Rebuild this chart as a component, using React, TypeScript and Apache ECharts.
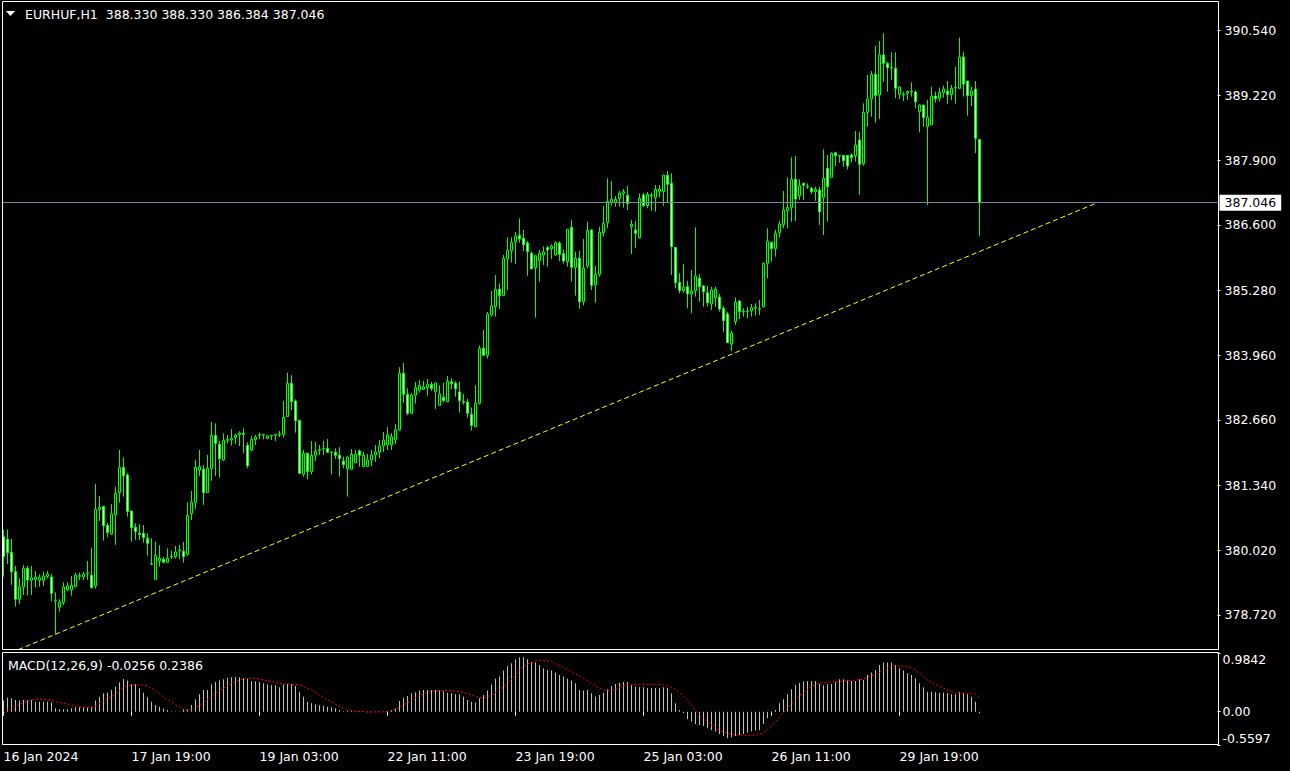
import React, { useEffect, useRef } from "react";
import * as echarts from "echarts";

const symbol = "EURHUF";
const timeframe = "H1";

const opens = [380.302,380.248,379.986,379.595,379.036,379.285,379.663,379.420,379.440,379.420,
379.420,379.494,379.487,379.003,378.875,378.976,379.225,379.225,379.292,379.501,
379.487,379.555,379.521,379.306,380.848,380.915,380.531,380.356,380.747,381.191,
381.703,381.548,380.821,380.491,380.370,380.370,380.269,379.750,379.440,379.811,
379.844,379.784,379.892,379.898,380.020,380.006,379.946,380.767,380.996,381.649,
381.663,381.191,381.676,382.350,382.168,381.851,382.249,382.256,382.303,382.363,
382.390,382.148,382.053,382.262,382.350,382.357,382.289,382.350,382.350,382.363,
382.370,382.727,383.400,383.044,382.653,381.562,381.986,381.616,381.946,382.047,
382.074,382.087,382.013,382.006,381.946,381.831,381.676,381.663,381.798,382.033,
381.717,381.717,381.851,381.952,382.013,382.134,382.155,382.155,382.256,382.458,
383.603,383.179,382.795,383.158,383.266,383.280,383.313,383.381,383.232,382.956,
383.118,383.030,383.434,383.401,383.226,383.030,383.024,382.774,382.525,382.997,
384.108,383.966,384.781,384.950,385.300,385.172,385.913,386.081,386.263,386.391,
386.330,386.236,386.027,385.738,385.879,385.994,386.142,386.121,385.994,386.236,
386.020,385.859,386.553,385.744,385.926,385.051,385.771,386.499,385.387,385.603,
386.445,386.647,387.058,387.051,387.132,387.239,387.199,386.566,386.499,386.344,
387.206,386.990,387.192,387.152,387.273,387.273,387.603,387.442,386.148,385.441,
385.273,385.354,385.206,385.273,385.522,385.367,385.232,385.003,385.131,385.145,
384.916,384.801,384.195,384.646,385.064,384.842,384.862,384.869,384.922,384.902,
384.949,385.825,386.249,386.121,386.445,386.606,386.889,386.957,387.522,387.192,
387.441,387.367,387.340,387.273,387.307,387.159,387.745,387.563,388.061,388.000,
388.007,388.007,388.014,388.001,388.317,387.839,388.876,389.146,389.644,389.227,
390.035,389.866,389.772,389.765,389.240,389.227,389.260,389.287,389.287,388.890,
389.025,388.587,388.620,389.206,389.160,389.274,389.307,389.233,389.368,389.361,
389.994,389.510,389.213,389.348,388.330];

const highs = [380.437,380.450,380.255,379.710,379.460,379.730,379.710,379.710,379.609,379.541,
379.595,379.609,379.541,379.178,379.036,379.380,379.380,379.507,379.575,379.575,
379.595,379.811,380.080,381.367,381.124,380.922,380.578,380.962,381.313,382.053,
381.905,381.582,380.821,380.572,380.552,380.538,380.370,380.269,380.201,380.127,
379.898,380.067,380.020,380.114,380.134,380.195,380.996,381.225,381.851,382.054,
381.750,381.953,382.619,382.592,382.242,382.390,382.357,382.478,382.377,382.431,
382.491,382.208,382.336,382.357,382.404,382.377,382.357,382.350,382.377,382.437,
383.044,383.616,383.569,383.077,382.660,382.053,382.000,382.235,382.215,382.155,
382.235,382.276,382.020,382.087,382.114,381.919,381.932,382.074,382.053,382.067,
382.020,381.973,382.053,382.155,382.256,382.417,382.518,382.397,382.579,383.724,
383.812,383.300,383.199,383.428,383.468,383.448,383.488,383.428,383.421,383.360,
383.414,383.549,383.502,383.441,383.434,383.185,383.091,382.909,383.360,384.169,
384.478,384.842,385.266,385.589,385.421,385.994,386.350,386.350,386.458,386.734,
386.499,386.276,386.061,385.980,386.095,386.169,386.175,386.209,386.270,386.270,
386.108,386.512,386.701,386.061,386.081,386.317,386.667,386.512,385.771,386.566,
386.990,387.543,387.489,387.186,387.293,387.327,387.388,386.701,386.680,387.239,
387.253,387.266,387.253,387.408,387.408,387.610,387.691,387.644,386.148,385.623,
385.812,385.475,385.690,386.553,385.610,385.387,385.367,385.354,385.354,385.206,
384.963,384.849,384.460,385.138,385.084,384.916,384.949,385.003,385.017,385.084,
385.839,386.532,386.263,386.499,386.680,387.287,387.563,387.967,387.994,387.522,
387.455,387.441,387.374,387.374,387.374,388.128,388.014,388.068,388.081,388.014,
388.014,388.014,388.048,388.499,388.486,389.058,389.631,389.712,390.217,390.318,
390.473,389.900,390.089,390.089,389.408,389.294,389.321,389.483,389.321,389.038,
389.025,389.126,389.395,389.294,389.375,389.415,389.510,389.429,389.799,390.385,
390.102,389.510,389.395,389.510,388.330];

const lows = [379.494,379.750,379.326,378.888,378.942,379.124,379.110,379.124,379.272,379.292,
379.312,379.460,378.996,378.336,378.787,378.922,379.205,379.110,379.279,379.427,
379.427,379.427,379.252,379.252,380.619,380.222,380.289,380.336,380.134,380.989,
381.111,380.707,380.201,380.235,380.235,380.181,379.919,379.730,379.427,379.696,
379.764,379.777,379.851,379.858,379.851,379.777,379.912,380.639,380.861,381.528,
380.942,381.191,381.427,381.528,381.495,381.831,382.188,382.141,382.175,382.134,
381.986,381.683,382.033,382.155,382.276,382.269,382.269,382.256,382.235,382.309,
382.303,382.727,382.862,382.404,381.569,381.515,381.461,381.562,381.831,381.952,
381.952,382.000,381.562,381.872,381.515,381.683,381.111,381.663,381.784,381.717,
381.717,381.717,381.730,381.811,381.892,382.013,382.053,382.053,382.175,382.444,
383.010,382.761,382.781,382.990,383.212,383.266,383.152,383.246,382.882,382.950,
383.017,383.017,383.280,383.131,382.808,382.970,382.707,382.444,382.512,382.970,
383.966,383.899,384.748,384.748,384.902,385.172,385.286,385.839,385.812,386.243,
386.074,385.576,385.711,384.727,385.455,385.791,385.758,385.913,385.973,385.872,
385.818,385.758,385.455,385.172,384.909,384.977,385.724,385.286,385.030,385.556,
386.364,386.532,386.990,386.970,386.970,386.950,386.903,386.014,386.135,386.330,
386.970,386.936,386.889,386.869,387.159,386.990,387.058,385.589,385.320,385.219,
385.233,384.916,384.815,385.152,385.051,384.950,384.950,384.882,384.950,384.849,
384.444,384.222,384.054,384.579,384.700,384.747,384.714,384.747,384.768,384.781,
384.929,385.522,385.859,385.960,386.350,386.532,386.532,386.667,386.680,387.105,
387.105,387.327,387.226,387.091,386.600,386.398,386.667,387.563,387.792,387.859,
387.778,387.724,387.866,387.880,387.206,387.799,388.587,388.789,388.668,388.742,
389.496,389.294,389.530,389.159,389.146,389.105,389.126,389.193,388.957,388.472,
388.587,387.004,388.620,389.072,389.092,389.173,389.052,389.126,389.052,389.361,
389.193,388.809,389.004,388.055,386.384];

const closes = [379.898,379.979,379.595,379.036,379.285,379.663,379.427,379.467,379.487,379.474,
379.508,379.548,379.157,379.016,378.983,379.285,379.306,379.319,379.521,379.514,
379.548,379.568,379.272,380.855,380.895,380.525,380.383,380.760,381.178,381.703,
381.535,380.808,380.484,380.403,380.343,380.282,380.168,379.743,379.925,379.865,
379.784,379.865,379.905,379.993,380.033,379.898,380.734,380.996,381.703,381.717,
381.191,381.683,382.350,382.188,381.878,382.249,382.262,382.289,382.357,382.397,
382.370,381.737,382.269,382.316,382.363,382.363,382.336,382.343,382.363,382.377,
382.707,383.400,383.030,382.646,381.582,381.986,381.616,381.946,382.027,382.060,
382.080,382.006,382.006,381.946,381.878,381.757,381.912,381.966,381.966,381.946,
381.946,381.851,381.952,382.013,382.134,382.256,382.357,382.322,382.458,383.603,
383.179,382.795,383.165,383.320,383.360,383.327,383.381,383.293,383.408,383.185,
383.051,383.441,383.394,383.293,383.051,383.017,382.795,382.552,382.997,384.108,
383.966,384.802,384.963,385.300,385.172,385.926,386.088,386.249,386.377,386.317,
386.202,386.061,385.711,385.980,386.027,386.054,386.095,386.175,386.243,386.007,
385.872,386.512,385.744,385.926,385.051,385.724,386.492,385.381,385.603,386.452,
386.633,387.078,387.118,387.118,387.246,387.273,387.031,386.613,386.431,387.138,
386.990,387.219,387.206,387.320,387.327,387.610,387.421,386.162,385.435,385.273,
385.340,385.206,385.266,385.569,385.354,385.253,385.030,385.286,385.300,384.902,
384.667,384.222,384.411,385.037,384.848,384.855,384.855,384.929,384.936,384.909,
385.825,386.276,386.121,386.431,386.620,386.903,386.957,387.522,387.125,387.394,
387.401,387.381,387.273,387.320,386.869,387.542,387.374,388.048,388.000,387.994,
387.899,387.792,387.960,388.216,387.826,388.876,389.146,389.644,389.213,390.035,
389.866,389.779,389.786,389.361,389.388,389.240,389.294,389.301,389.092,389.025,
388.769,388.775,389.206,389.153,389.281,389.348,389.233,389.361,389.381,389.994,
389.449,389.213,389.307,388.351,387.046];

const macdMain = [0.185,0.235,0.224,0.196,0.185,0.196,0.185,0.196,0.168,0.168,
0.168,0.168,0.152,0.056,0.040,0.040,0.040,0.056,0.073,0.073,
0.073,0.073,0.084,0.185,0.252,0.308,0.319,0.364,0.420,0.493,
0.549,0.521,0.459,0.459,0.392,0.319,0.241,0.168,0.112,0.084,
0.051,0.029,0.006,-0.005,-0.005,0.040,0.040,0.112,0.207,0.291,
0.364,0.364,0.459,0.498,0.521,0.543,0.565,0.577,0.582,0.577,
0.560,0.554,0.510,0.510,0.498,0.476,0.459,0.442,0.442,0.409,
0.454,0.465,0.459,0.431,0.336,0.252,0.168,0.140,0.124,0.109,
0.101,0.084,0.073,0.056,0.029,0.006,0.017,0.012,0.001,-0.005,
-0.005,-0.011,-0.011,-0.005,-0.005,0.001,0.012,0.029,0.051,0.180,
0.235,0.263,0.308,0.325,0.353,0.364,0.364,0.364,0.364,0.353,
0.342,0.319,0.308,0.291,0.291,0.252,0.196,0.168,0.152,0.224,
0.280,0.353,0.454,0.550,0.588,0.689,0.767,0.812,0.879,0.912,
0.912,0.879,0.834,0.823,0.783,0.728,0.700,0.689,0.656,0.616,
0.588,0.554,0.521,0.476,0.364,0.353,0.364,0.308,0.252,0.280,
0.319,0.375,0.431,0.465,0.487,0.498,0.498,0.442,0.420,0.409,
0.409,0.398,0.398,0.398,0.398,0.409,0.398,0.308,0.140,0.029,
-0.027,-0.128,-0.167,-0.206,-0.223,-0.240,-0.280,-0.307,-0.335,-0.374,
-0.408,-0.447,-0.430,-0.408,-0.391,-0.374,-0.352,-0.335,-0.318,-0.307,
-0.206,-0.111,-0.027,0.029,0.140,0.207,0.291,0.375,0.448,0.487,
0.504,0.515,0.515,0.515,0.465,0.442,0.459,0.465,0.498,0.543,
0.543,0.521,0.515,0.515,0.543,0.532,0.616,0.656,0.700,0.783,
0.823,0.823,0.823,0.783,0.728,0.689,0.644,0.616,0.560,0.476,
0.409,0.336,0.336,0.325,0.319,0.319,0.308,0.291,0.291,0.336,
0.319,0.291,0.252,0.168,-0.0256];

const macdSignal = [-0.027,0.029,0.056,0.084,0.124,0.152,0.185,0.196,0.207,0.207,
0.207,0.196,0.185,0.168,0.157,0.140,0.129,0.112,0.096,0.084,
0.073,0.073,0.073,0.096,0.140,0.168,0.213,0.252,0.291,0.353,
0.392,0.431,0.448,0.448,0.448,0.448,0.431,0.392,0.353,0.297,
0.252,0.207,0.168,0.112,0.073,0.040,0.029,0.029,0.056,0.096,
0.152,0.207,0.252,0.308,0.353,0.392,0.431,0.476,0.504,0.532,
0.549,0.560,0.560,0.560,0.549,0.532,0.521,0.504,0.493,0.476,
0.465,0.465,0.459,0.459,0.448,0.420,0.392,0.364,0.319,0.280,
0.241,0.196,0.168,0.124,0.084,0.056,0.029,0.017,0.006,0.001,
0.001,-0.005,-0.005,-0.005,-0.005,-0.005,0.001,0.017,0.040,0.073,
0.112,0.157,0.196,0.235,0.269,0.297,0.319,0.336,0.347,0.353,
0.353,0.353,0.353,0.347,0.336,0.319,0.297,0.280,0.252,0.235,
0.235,0.252,0.280,0.319,0.364,0.420,0.476,0.543,0.616,0.700,
0.756,0.800,0.823,0.851,0.856,0.856,0.851,0.840,0.800,0.767,
0.744,0.711,0.672,0.633,0.599,0.560,0.521,0.476,0.431,0.392,
0.364,0.353,0.353,0.375,0.409,0.431,0.454,0.454,0.459,0.459,
0.459,0.459,0.459,0.454,0.454,0.448,0.431,0.409,0.375,0.319,
0.252,0.185,0.112,0.029,-0.044,-0.111,-0.167,-0.223,-0.268,-0.307,
-0.335,-0.363,-0.380,-0.391,-0.397,-0.397,-0.397,-0.397,-0.397,-0.380,
-0.352,-0.296,-0.240,-0.167,-0.095,-0.016,0.056,0.129,0.207,0.263,
0.319,0.375,0.420,0.454,0.476,0.487,0.493,0.498,0.504,0.504,
0.515,0.521,0.521,0.532,0.532,0.549,0.577,0.605,0.633,0.656,
0.689,0.728,0.756,0.767,0.767,0.767,0.756,0.728,0.689,0.644,
0.588,0.532,0.487,0.448,0.420,0.392,0.364,0.336,0.319,0.308,
0.308,0.308,0.302,0.291,0.2386];

const priceTicks = [390.54, 389.22, 387.9, 386.6, 385.28, 383.96, 382.66, 381.34, 380.02, 378.72];
const macdTicks = [0.9842, 0, -0.5597];
const tickLabels = ["16 Jan 2024", "17 Jan 19:00", "19 Jan 03:00", "22 Jan 11:00", "23 Jan 19:00", "25 Jan 03:00", "26 Jan 11:00", "29 Jan 19:00"];
const TICK_STEP = 32;
const VISIBLE_BARS = 304;
const priceMin = 378.032;
const priceMax = 391.106;
const macdMin = -0.5597;
const macdMax = 0.9842;
const trendLine = [[0, 377.895], [273, 387.035]];

const MONTHS = ["Jan","Feb","Mar","Apr","May","Jun","Jul","Aug","Sep","Oct","Nov","Dec"];
const pad = (n: number) => (n < 10 ? "0" + n : "" + n);
const categories: string[] = [];
{
  let t = Date.UTC(2024, 0, 16, 11);
  while (categories.length < VISIBLE_BARS) {
    const d = new Date(t);
    const wd = d.getUTCDay();
    if (wd !== 0 && wd !== 6) {
      categories.push(`${d.getUTCDate()} ${MONTHS[d.getUTCMonth()]} ${pad(d.getUTCHours())}:00`);
    }
    t += 3600000;
  }
}
const labelByCat: Record<string, string> = {};
tickLabels.forEach((l, k) => { labelByCat[categories[k * TICK_STEP]] = l; });

const FONT = "DejaVu Sans";
const FS = 12.5;

export default function App() {
  const ref = useRef<HTMLDivElement>(null);
  useEffect(() => {
    document.body.style.margin = "0";
    document.body.style.background = "#000";
    if (!ref.current) return;
    const chart = echarts.init(ref.current, null, { renderer: "svg" });
    const n = closes.length;
    const candleData = opens.map((o, i) => [o, closes[i], lows[i], highs[i]]);
    const showTick = (idx: number) => idx % TICK_STEP === 0 && idx < n;
    const last = n - 1;
    const header = `${symbol},${timeframe}  ${opens[last].toFixed(3)} ${highs[last].toFixed(3)} ${lows[last].toFixed(3)} ${closes[last].toFixed(3)}`;
    const macdText = `MACD(12,26,9) ${macdMain[last].toFixed(4)} ${macdSignal[last].toFixed(4)}`;

    chart.setOption({
      animation: false,
      backgroundColor: "#000000",
      textStyle: { fontFamily: FONT, fontSize: FS, color: "#ffffff" },
      grid: [
        { left: 1.5, top: 2, width: 1216, height: 647 },
        { left: 1.5, top: 653, width: 1216, height: 92 },
      ],
      xAxis: [
        {
          type: "category", gridIndex: 0, data: categories, boundaryGap: true,
          axisLine: { show: false }, axisTick: { show: false }, axisLabel: { show: false }, splitLine: { show: false },
        },
        {
          type: "category", gridIndex: 1, data: categories, boundaryGap: true,
          axisLine: { show: false },
          axisTick: { show: true, alignWithLabel: true, interval: showTick, length: 4, lineStyle: { color: "#ffffff" } },
          axisLabel: {
            interval: showTick, formatter: (v: string) => labelByCat[v] ?? "",
            align: "left", color: "#ffffff", fontFamily: FONT, fontSize: FS, margin: 5,
          },
          splitLine: { show: false },
        },
      ],
      yAxis: [
        {
          type: "value", gridIndex: 0, position: "right", min: priceMin, max: priceMax,
          splitLine: { show: false }, axisLine: { show: false },
          axisTick: { show: true, customValues: priceTicks, length: 3, lineStyle: { color: "#ffffff" } },
          axisLabel: { customValues: priceTicks, formatter: (v: number) => v.toFixed(3), color: "#ffffff", margin: 7, fontFamily: FONT, fontSize: FS },
        },
        {
          type: "value", gridIndex: 1, position: "right", min: macdMin, max: macdMax,
          splitLine: { show: false }, axisLine: { show: false },
          axisTick: { show: true, customValues: macdTicks, length: 3, lineStyle: { color: "#ffffff" } },
          axisLabel: {
            customValues: macdTicks, formatter: (v: number) => (v === 0 ? "0.00" : v.toFixed(4)),
            color: "#ffffff", margin: 5, fontFamily: FONT, fontSize: FS,
            verticalAlignMaxLabel: "bottom", verticalAlignMinLabel: "top",
          },
        },
      ],
      series: [
        {
          type: "candlestick", xAxisIndex: 0, yAxisIndex: 0, data: candleData, barWidth: 2, silent: true,
          itemStyle: { color: "#000000", color0: "#ffffff", borderColor: "#00ff00", borderColor0: "#00ff00", borderColorDoji: "#00ff00", borderWidth: 1 },
          markLine: {
            silent: true, symbol: ["none", "none"],
            data: [{ yAxis: closes[last] }],
            lineStyle: { color: "#778899", type: "solid", width: 1 },
            label: {
              show: true, position: "end", distance: 2, formatter: closes[last].toFixed(3),
              backgroundColor: "#ffffff", color: "#000000", padding: [1, 5, 1, 5], lineHeight: 14,
              fontFamily: FONT, fontSize: FS,
            },
            emphasis: { disabled: true },
          },
        },
        {
          type: "line", xAxisIndex: 0, yAxisIndex: 0, data: trendLine, symbol: "none", silent: true,
          lineStyle: { color: "#ffff00", width: 1, type: [5, 3] },
        },
        {
          type: "bar", xAxisIndex: 1, yAxisIndex: 1, data: macdMain, barWidth: 1, silent: true,
          itemStyle: { color: "#c0c0c0" },
        },
        {
          type: "line", xAxisIndex: 1, yAxisIndex: 1, data: macdSignal, symbol: "none", silent: true,
          lineStyle: { color: "#ff0000", width: 1, type: [2, 2] },
        },
      ],
      graphic: [
        { type: "rect", z: 100, shape: { x: 2.5, y: 1.5, width: 1216, height: 648 }, style: { fill: "none", stroke: "#ffffff", lineWidth: 1 } },
        { type: "rect", z: 100, shape: { x: 2.5, y: 652.5, width: 1216, height: 92 }, style: { fill: "none", stroke: "#ffffff", lineWidth: 1 } },
        { type: "polygon", z: 100, shape: { points: [[6, 11], [15, 11], [10.5, 16]] }, style: { fill: "#ffffff" } },
        { type: "text", z: 100, x: 25, y: 14, style: { text: header, fill: "#ffffff", fontFamily: FONT, fontSize: FS, verticalAlign: "middle" } },
        { type: "text", z: 100, x: 8, y: 665, style: { text: macdText, fill: "#ffffff", fontFamily: FONT, fontSize: FS, verticalAlign: "middle" } },
      ],
    });
    return () => chart.dispose();
  }, []);
  return <div ref={ref} style={{ width: 1290, height: 771, background: "#000" }} />;
}
